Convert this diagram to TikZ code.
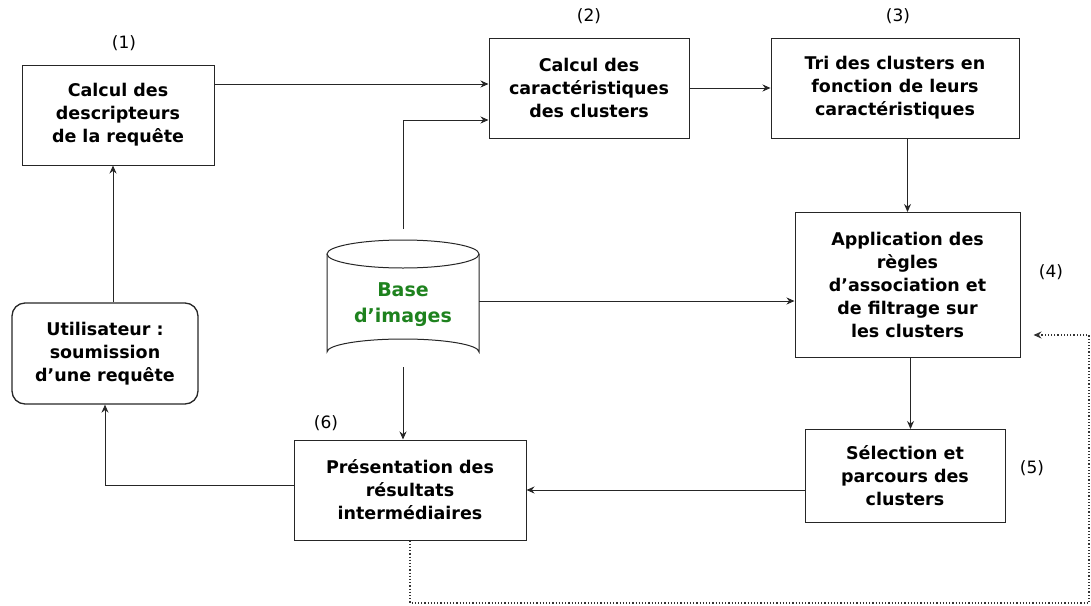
\documentclass[tikz,border=0pt]{standalone}
\usepackage{fontspec}
\setmainfont{DejaVu Sans}
\usetikzlibrary{arrows.meta,calc}
\definecolor{dbgreen}{RGB}{30,130,30}
\begin{document}
\begin{tikzpicture}[x=1pt,y=-1pt,
  box/.style={draw=black!85,line width=1pt,align=center,inner sep=0pt,
    font=\fontsize{17.5}{23}\selectfont\bfseries},
  num/.style={font=\fontsize{17}{20}\selectfont},
  arr/.style={line width=1pt,draw=black!85,-{Stealth[length=8pt,width=7pt]}},
  dotarr/.style={line width=1.2pt,draw=black!80,dotted,-{Stealth[length=8pt,width=7pt]}}]
\useasboundingbox (0,0) rectangle (1091,605);
% boxes
\node[box,minimum width=192pt,minimum height=100pt] (b1) at (118,115) {Calcul des\\descripteurs\\de la requête};
\node[box,minimum width=200pt,minimum height=100pt] (b2) at (589,88) {Calcul des\\caractéristiques\\des clusters};
\node[box,minimum width=248pt,minimum height=100pt] (b3) at (895,88) {Tri des clusters en\\fonction de leurs\\caractéristiques};
\node[box,minimum width=225pt,minimum height=145pt] (b4) at (907.5,285) {Application des\\règles\\d’association et\\de filtrage sur\\les clusters};
\node[box,minimum width=200pt,minimum height=93pt] (b5) at (905,476) {Sélection et\\parcours des\\clusters};
\node[box,minimum width=232pt,minimum height=100pt] (b6) at (410,490) {Présentation des\\résultats\\intermédiaires};
\node[box,rounded corners=13pt,line width=1.3pt,minimum width=186pt,minimum height=101pt] (user) at (105,353.5) {Utilisateur :\\soumission\\d’une requête};
% database cylinder
\draw[line width=1pt,draw=black!85,fill=white] (327,254) -- (327,352) arc[start angle=180,end angle=360,x radius=76,y radius=13] -- (479,254);
\draw[line width=1pt,draw=black!85] (403,254) ellipse[x radius=76,y radius=14];
\node[align=center,font=\fontsize{19}{26}\selectfont\bfseries,text=dbgreen,minimum width=152pt,minimum height=100pt,inner sep=0pt] (db) at (403,305) {Base\\d’images};
\coordinate (dbtop) at (403,229);
\coordinate (dbbot) at (403,367);
% numbers
\node[num] (n1) at (124,43) {(1)};
\node[num] (n2) at (589,16) {(2)};
\node[num] (n3) at (898,16) {(3)};
\node[num] (n4) at (1051,272) {(4)};
\node[num] (n5) at (1032,468) {(5)};
\node[num] (n6) at (326,423) {(6)};
% connectors
\coordinate (a12) at ([yshift=31pt]b1.east);
\draw[arr] (a12) -- (a12 -| b2.west);
\draw[arr] (b2.east) -- (b3.west);
\draw[arr] (dbtop) |- ([yshift=-32pt]b2.west);
\draw[arr] (b4.north |- b3.south) -- (b4.north);
\coordinate (a4) at ([yshift=-16pt]b4.west);
\draw[arr] (a4 -| db.east) -- (a4);
\draw[arr] ([xshift=3pt]b4.south) -- ([xshift=3pt]b4.south |- b5.north);
\draw[arr] (b5.west |- b6.east) -- (b6.east);
\draw[arr] (dbbot) -- (dbbot |- b6.north);
\draw[arr] ([yshift=5pt]b6.west) -| (user.south);
\draw[arr] ([xshift=8pt]user.north) -- ([xshift=8pt]user.north |- b1.south);
% feedback dotted
\coordinate (c1) at (1089,603);
\coordinate (fb) at ([xshift=13pt,yshift=-50pt]b4.east);
\draw[dotarr] (b6.south) |- (c1) |- (fb);
\end{tikzpicture}
\end{document}
